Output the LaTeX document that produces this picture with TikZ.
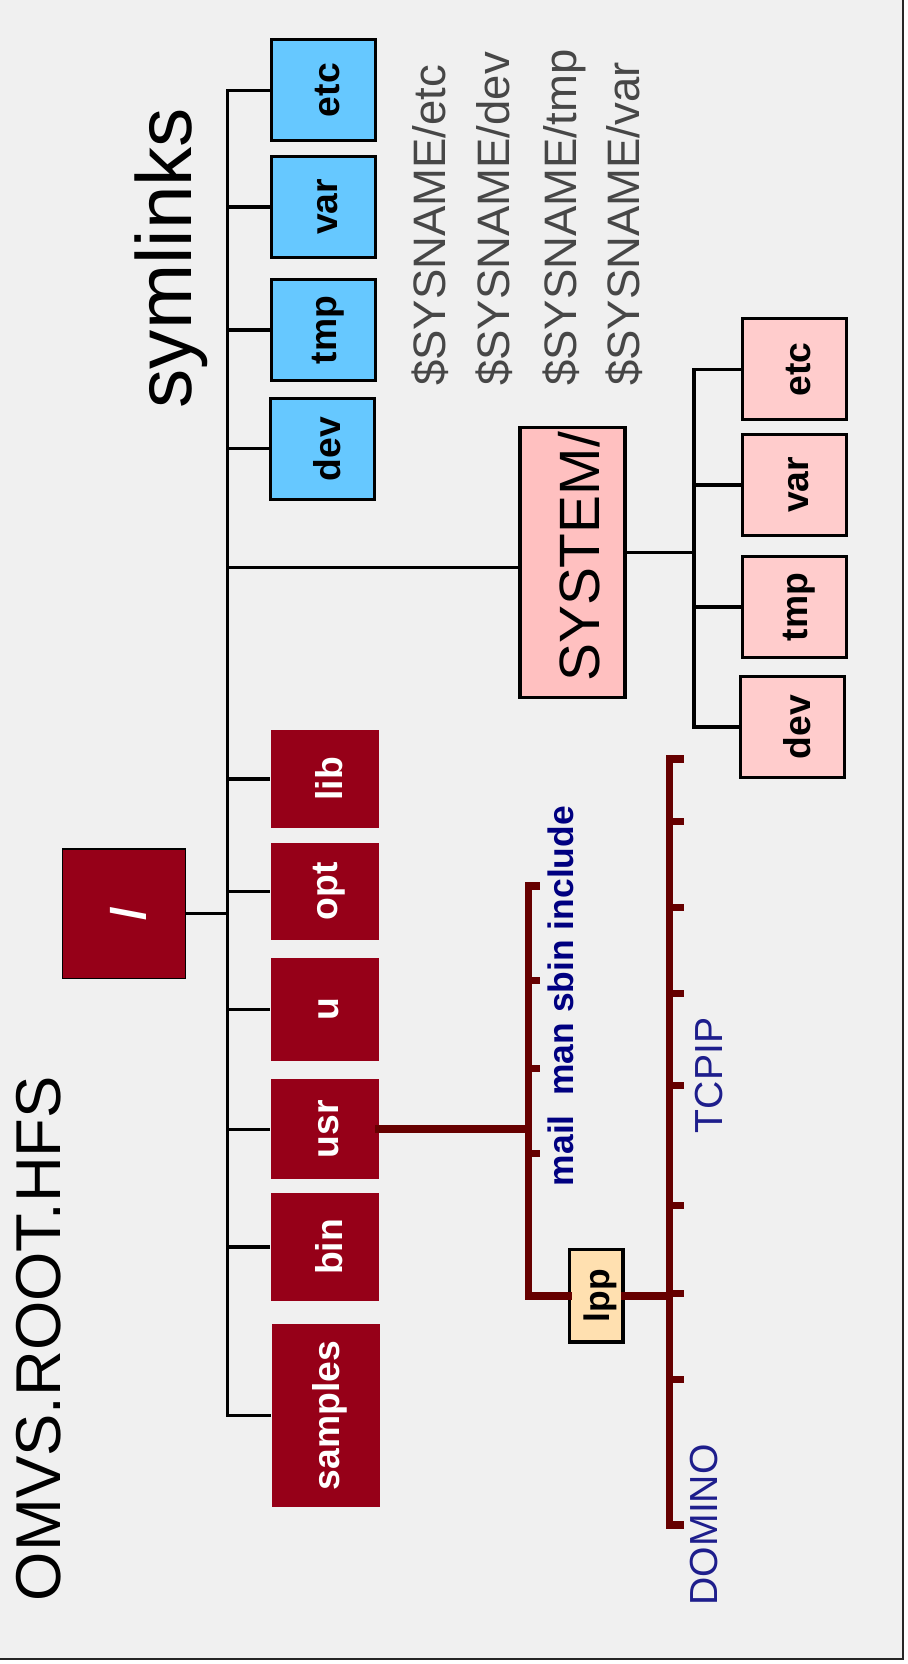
\documentclass[tikz,border=0pt]{standalone}
\usepackage{fontspec}
\setmainfont{Liberation Sans}
\usepackage{tikz}

\definecolor{bggray}{HTML}{F0F0F0}
\definecolor{linkblue}{HTML}{66C8FF}
\definecolor{hfsred}{HTML}{960018}
\definecolor{syspink}{HTML}{FFC0C0}
\definecolor{dirpink}{HTML}{FFCCCC}
\definecolor{lppbeige}{HTML}{FFE0B0}
\definecolor{subred}{HTML}{660000}
\definecolor{navy}{HTML}{000080}
\definecolor{tcpblue}{HTML}{1E1E8C}
\definecolor{linkgray}{HTML}{474747}

\newcommand{\vtext}[1]{\rotatebox{90}{\raisebox{-2.2pt}[\height][\depth]{#1}}}

\tikzset{
  dirbox/.style={rectangle, inner sep=0pt, font=\fontsize{20}{20}\selectfont\bfseries},
  linkbox/.style={dirbox, draw=black, line width=1.7pt, fill=linkblue,
    minimum width=1.96cm, minimum height=1.9cm},
  hfsbox/.style={dirbox, fill=hfsred, text=white, minimum width=2.04cm},
  pinkbox/.style={dirbox, draw=black, line width=1.7pt, fill=dirpink,
    minimum width=1.96cm, minimum height=1.9cm},
  uptext/.style={rotate=90, anchor=base west, inner sep=0pt},
  tree/.style={line width=1.7pt},
  subtree/.style={line width=4pt, draw=subred, line cap=rect},
}

\begin{document}
\begin{tikzpicture}[x=0.02cm,y=-0.02cm]
\useasboundingbox (0,0) rectangle (855,1568);
\fill[bggray] (0,0) rectangle (851,1563);
\draw[line width=1.1pt, draw=black!85] (0,1563) -- (851,1563) -- (851,0);

% titles
\node[uptext, font=\fontsize{34}{34}\selectfont] (hfs) at (57,1509) {OMVS.ROOT.HFS};
\node[uptext, font=\fontsize{42}{42}\selectfont] (symlinks) at (180,385) {symlinks};

% root and first level
\node[hfsbox, draw=black, line width=0.6pt, minimum width=2.32cm, minimum height=2.44cm,
  font=\fontsize{26}{26}\selectfont\bfseries] (root) at (117,861) {\vtext{/}};
\node[linkbox] (setc) at (305,85) {\vtext{etc}};
\node[linkbox] (svar) at (305,195) {\vtext{var}};
\node[linkbox] (stmp) at (305,311) {\vtext{tmp}};
\node[linkbox] (sdev) at (304,423) {\vtext{dev}};
\node[dirbox, draw=black, line width=1.7pt, fill=syspink, minimum width=1.98cm, minimum height=5.08cm,
  path picture={\node[uptext, font=\fontsize{30.5}{30.5}\selectfont]
    at ([xshift=0.5cm, yshift=0.26cm]path picture bounding box.south) {SYSTEM/};}] (sys) at (539.5,530) {};
\node[hfsbox, minimum height=1.84cm] (lib) at (306,734) {\vtext{lib}};
\node[hfsbox, minimum height=1.82cm] (opt) at (306,840) {\vtext{opt}};
\node[hfsbox, minimum height=1.94cm] (u) at (306,951) {\vtext{u}};
\node[hfsbox, minimum height=1.88cm] (usr) at (306,1064) {\vtext{usr}};
\node[hfsbox, minimum height=2.02cm] (bin) at (306,1175) {\vtext{bin}};
\node[hfsbox, minimum height=3.44cm] (samples) at (307,1334) {\vtext{samples}};

% SYSTEM/ children
\node[pinkbox] (petc) at (749,348) {\vtext{etc}};
\node[pinkbox] (pvar) at (749,457) {\vtext{var}};
\node[pinkbox] (ptmp) at (749,572) {\vtext{tmp}};
\node[pinkbox] (pdev) at (747,685) {\vtext{dev}};

\node[dirbox, draw=black, line width=1.7pt, fill=lppbeige, minimum width=1cm, minimum height=1.74cm,
  font=\fontsize{19}{19}\selectfont\bfseries] (lpp) at (562,1221) {\vtext{lpp}};

% symlink targets
\node[uptext, text=linkgray, font=\fontsize{24.4}{24.4}\selectfont] (lnetc) at (420,364) {\$SYSNAME/etc};
\node[uptext, text=linkgray, font=\fontsize{24.4}{24.4}\selectfont] (lndev) at (480,364) {\$SYSNAME/dev};
\node[uptext, text=linkgray, font=\fontsize{24.4}{24.4}\selectfont] (lntmp) at (543,364) {\$SYSNAME/tmp};
\node[uptext, text=linkgray, font=\fontsize{24.4}{24.4}\selectfont] (lnvar) at (603,364) {\$SYSNAME/var};

% usr and lpp contents
\node[uptext, text=navy, font=\fontsize{19}{19}\selectfont\bfseries] (usrsub) at (540,1118) {mail\ \ man sbin include};
\node[uptext, text=tcpblue, font=\fontsize{21}{21}\selectfont] (tcpip) at (681,1068) {TCPIP};
\node[uptext, text=tcpblue, font=\fontsize{21}{21}\selectfont] (domino) at (676,1513) {DOMINO};

% black tree
\coordinate (trunk) at (214,861);
\draw[tree] (setc.west) -| (samples.west -| trunk) -- (samples.west);
\foreach \d in {svar,stmp,sdev,lib,opt,u,usr,bin}
  \draw[tree] (\d.west -| trunk) -- (\d.west);
\draw[tree] ([yshift=-0.1cm]sys.west -| trunk) -- ([yshift=-0.1cm]sys.west);
\draw[tree] (root.east) -- (trunk);

\coordinate (ptrunk) at (654,521);
\draw[tree] (petc.west) -| (pdev.west -| ptrunk) -- (pdev.west);
\draw[tree] (pvar.west -| ptrunk) -- (pvar.west);
\draw[tree] (ptmp.west -| ptrunk) -- (ptmp.west);
\draw[tree] (sys.east |- ptrunk) -- (ptrunk);

% dark red subtrees
\coordinate (usrT) at (498,835);
\coordinate (usrB) at (498,1221);
\draw[subtree] (usr.east) -- (usr.east -| usrT);
\draw[subtree] (usrT) -- (usrB) -- (lpp.west);
\foreach \y in {835,924,1007,1087}
  \draw[subtree] (498,\y) -- (505,\y);

\coordinate (tcpT) at (631,715);
\coordinate (tcpB) at (631,1437);
\draw[subtree] (tcpT) -- (tcpB);
\draw[subtree] (lpp.east) -- (lpp.east -| tcpT);
\foreach \y in {715,774,855,936,1023,1136,1219,1300,1437}
  \draw[subtree] (631,\y) -- (641,\y);
\end{tikzpicture}
\end{document}
